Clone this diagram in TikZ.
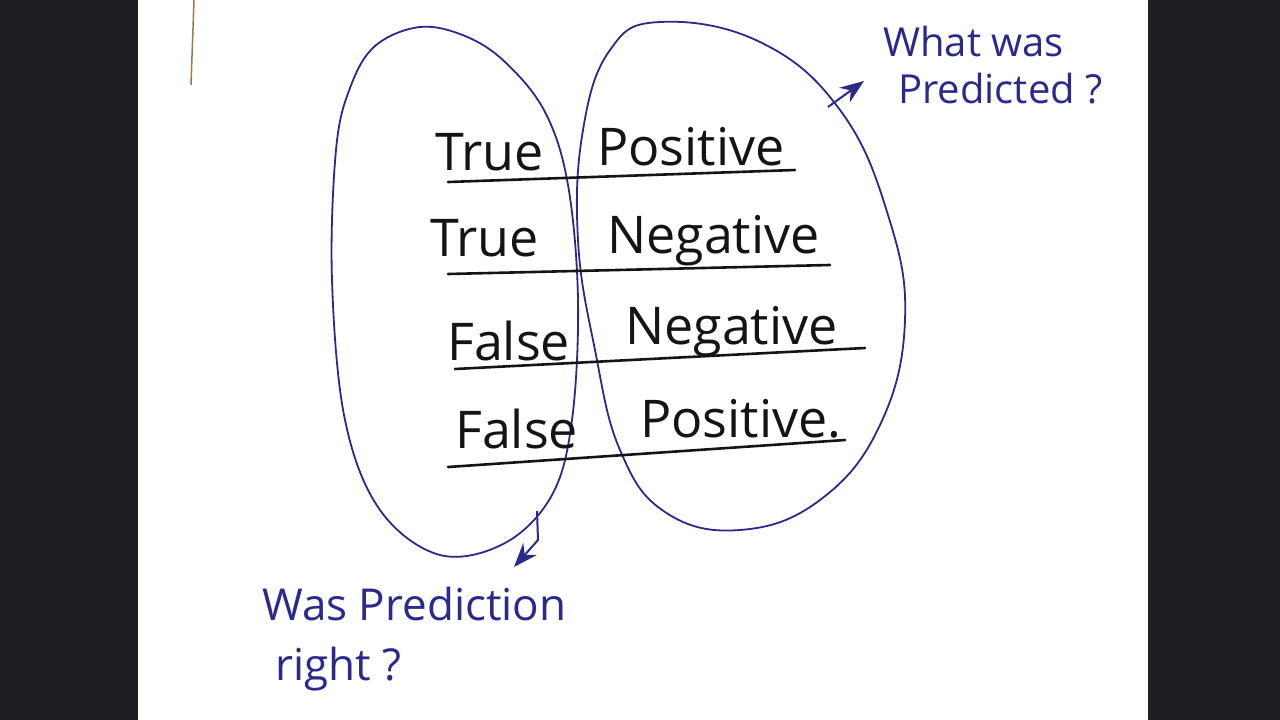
\documentclass[tikz,border=0pt]{standalone}
\usepackage{fontspec}
\setmainfont{Open Sans}
\usetikzlibrary{arrows.meta}
\definecolor{ink}{HTML}{2A2A8C}
\definecolor{pen}{HTML}{141414}
\definecolor{bar}{HTML}{1E1F22}
\definecolor{edge}{HTML}{9A7A4A}
\tikzset{
	cell/.style={anchor=base west, inner sep=0pt, text=pen, font=\fontsize{52}{60}\selectfont},
	note/.style={anchor=base west, inner sep=0pt, text=ink, align=left},
	rule/.style={pen, line width=2.6pt, line cap=round},
	blob/.style={ink, line width=1.8pt},
	point/.style={ink, line width=2pt, -{Stealth[length=24pt, width=18pt]}}
}
\begin{document}
\begin{tikzpicture}[x=1pt, y=-1pt]
		\useasboundingbox (0, 0) rectangle (1280, 720);
		\fill[white] (0, 0) rectangle (1280, 720);
		\fill[bar] (0, 0) rectangle (138, 720);
		\fill[bar] (1148, 0) rectangle (1280, 720);
		\draw[edge, line width=1.5pt] (194, 0) -- (191, 85);
		% the two circles
		\draw[blob] plot[smooth cycle, tension=0.6] coordinates {(420, 27) (375, 46) (350, 88) (336, 150) (332, 280) (345, 420) (380, 510) (440, 555) (505, 543) (552, 495) (572, 420) (578, 300) (568, 185) (545, 112) (505, 62) (465, 36)};
		\draw[blob] plot[smooth cycle, tension=0.7] coordinates {(660, 22) (760, 42) (840, 110) (888, 215) (905, 320) (880, 425) (820, 500) (740, 530) (665, 512) (620, 450) (595, 350) (578, 240) (583, 130) (610, 50)};
		% rows
		\node[cell] (true1) at (435, 170) {True};
		\node[cell] (pos1) at (597, 165) {Positive};
		\node[cell] (true2) at (430, 256) {True};
		\node[cell] (neg1) at (607, 253) {Negative};
		\node[cell] (false1) at (447, 360) {False};
		\node[cell] (neg2) at (625, 344) {Negative};
		\node[cell] (false2) at (455, 448) {False};
		\node[cell] (pos2) at (640, 437) {Positive.};
		\coordinate (r1a) at (448, 182); \coordinate (r1b) at (795, 170);
		\coordinate (r2a) at (448, 274); \coordinate (r2b) at (830, 265);
		\coordinate (r3a) at (455, 369); \coordinate (r3b) at (865, 348);
		\coordinate (r4a) at (448, 467); \coordinate (r4b) at (845, 440);
		\draw[rule] (r1a) -- (r1b);
		\draw[rule] (r2a) -- (r2b);
		\draw[rule] (r3a) -- (r3b);
		\draw[rule] (r4a) -- (r4b);
		% questions
		\node[note, font=\fontsize{40}{48}\selectfont] (what) at (883, 56) {What was};
		\node[note, font=\fontsize{40}{48}\selectfont] (predicted) at (898, 103) {Predicted ?};
		\node[note, font=\fontsize{44}{60}\selectfont] (was) at (262, 620) {Was Prediction};
		\node[note, font=\fontsize{44}{60}\selectfont] (right) at (275, 680) {right ?};
		\coordinate (rim1) at (828, 107);
		\coordinate (tip1) at (864, 81);
		\coordinate (rim2) at (537, 511);
		\coordinate (tip2) at (514, 567);
		\draw[point] (rim1) -- (tip1);
		\draw[point] (rim2) -- (538, 540) -- (tip2);
	\end{tikzpicture}
\end{document}
